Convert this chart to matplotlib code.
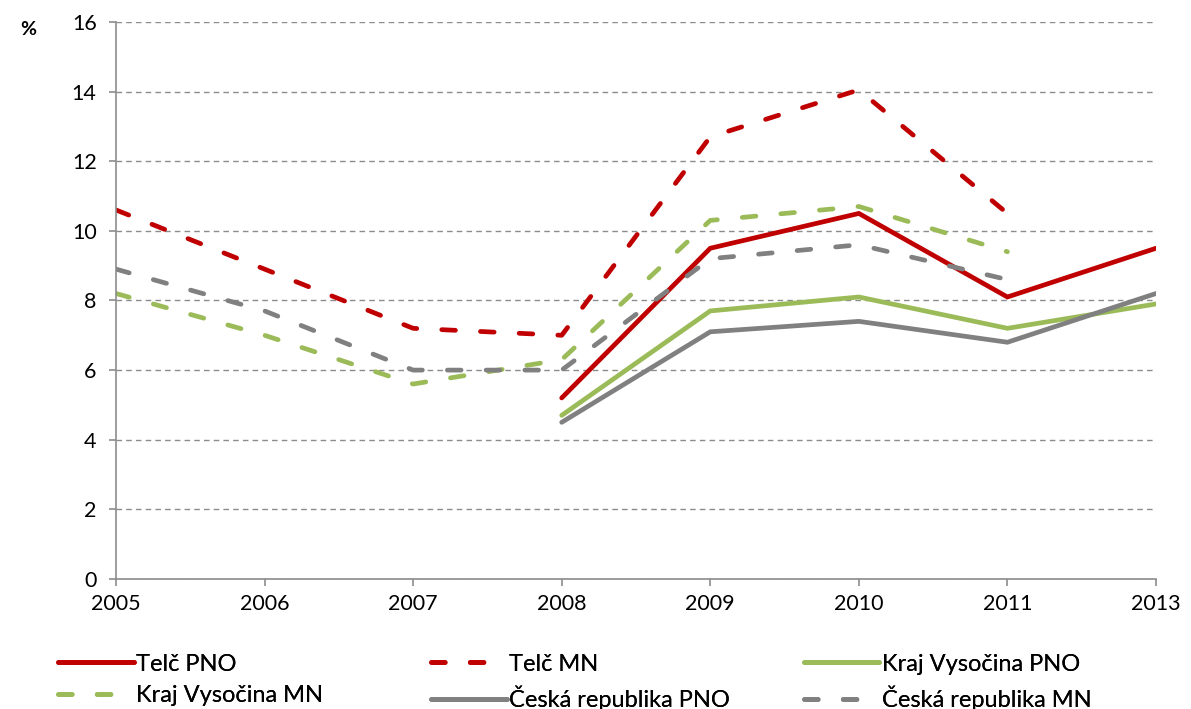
import matplotlib.pyplot as plt
import numpy as np

plt.rcParams['font.family'] = ['Lato', 'DejaVu Sans']

years = ['2005', '2006', '2007', '2008', '2009', '2010', '2011', '2013']

telc_pno = [None, None, None, 5.2, 9.5, 10.5, 8.1, 9.5]
telc_mn = [10.6, 8.9, 7.2, 7.0, 12.7, 14.05, 10.5, None]
kraj_pno = [None, None, None, 4.7, 7.7, 8.1, 7.2, 7.9]
kraj_mn = [8.2, 7.0, 5.6, 6.3, 10.3, 10.7, 9.4, None]
cr_pno = [None, None, None, 4.5, 7.1, 7.4, 6.8, 8.2]
cr_mn = [8.9, 7.7, 6.0, 6.0, 9.2, 9.6, 8.6, None]

series = [
    ('Telč PNO', telc_pno, '#c00000', '-'),
    ('Telč MN', telc_mn, '#c00000', '--'),
    ('Kraj Vysočina PNO', kraj_pno, '#9bbb59', '-'),
    ('Kraj Vysočina MN', kraj_mn, '#9bbb59', '--'),
    ('Česká republika PNO', cr_pno, '#808080', '-'),
    ('Česká republika MN', cr_mn, '#808080', '--'),
]


def to_arr(vals):
    return np.array([np.nan if v is None else v for v in vals], dtype=float)


fig = plt.figure(figsize=(11.91, 7.09), dpi=100)
ax = fig.add_axes([0.0974, 0.1834, 0.8732, 0.7856])

x = np.arange(len(years))
handles = []
for label, vals, color, ls in series:
    line, = ax.plot(x, to_arr(vals), color=color, lw=3.4, label=label,
                    solid_capstyle='round', dash_capstyle='round',
                    solid_joinstyle='miter')
    if ls == '--':
        line.set_dashes([2.9, 5.3])
    handles.append(line)

ax.set_xlim(0, len(years) - 1)
ax.set_ylim(0, 16)
ax.set_xticks(x)
ax.set_xticklabels(years)
ax.set_yticks(range(0, 17, 2))
ax.yaxis.grid(True, color='#8c8c8c', linestyle=(0, (4, 3)), linewidth=1)
ax.set_axisbelow(True)

for s in ['top', 'right']:
    ax.spines[s].set_visible(False)
for s in ['left', 'bottom']:
    ax.spines[s].set_color('#8c8c8c')
    ax.spines[s].set_linewidth(1.2)
ax.tick_params(axis='both', colors='#8c8c8c', labelcolor='black',
               labelsize=15.5, length=5, width=1.2)
ax.tick_params(axis='y', pad=9)
ax.tick_params(axis='x', pad=6)

fig.text(0.017, 0.958, '%', fontsize=14, fontweight='bold', ha='left', va='center')

# legend: row-major order, one legend per column
col_x = [0.049, 0.362, 0.675]
for c in range(3):
    hs = [handles[c], handles[c + 3]]
    leg = fig.legend(hs, [h.get_label() for h in hs], loc='upper left',
                     bbox_to_anchor=(col_x[c], 0.078), frameon=False,
                     fontsize=17, handlelength=3.2, handletextpad=0.1,
                     labelspacing=0.45, borderpad=0, borderaxespad=0)
    fig.add_artist(leg)

fig.savefig('out.png', dpi=100)
